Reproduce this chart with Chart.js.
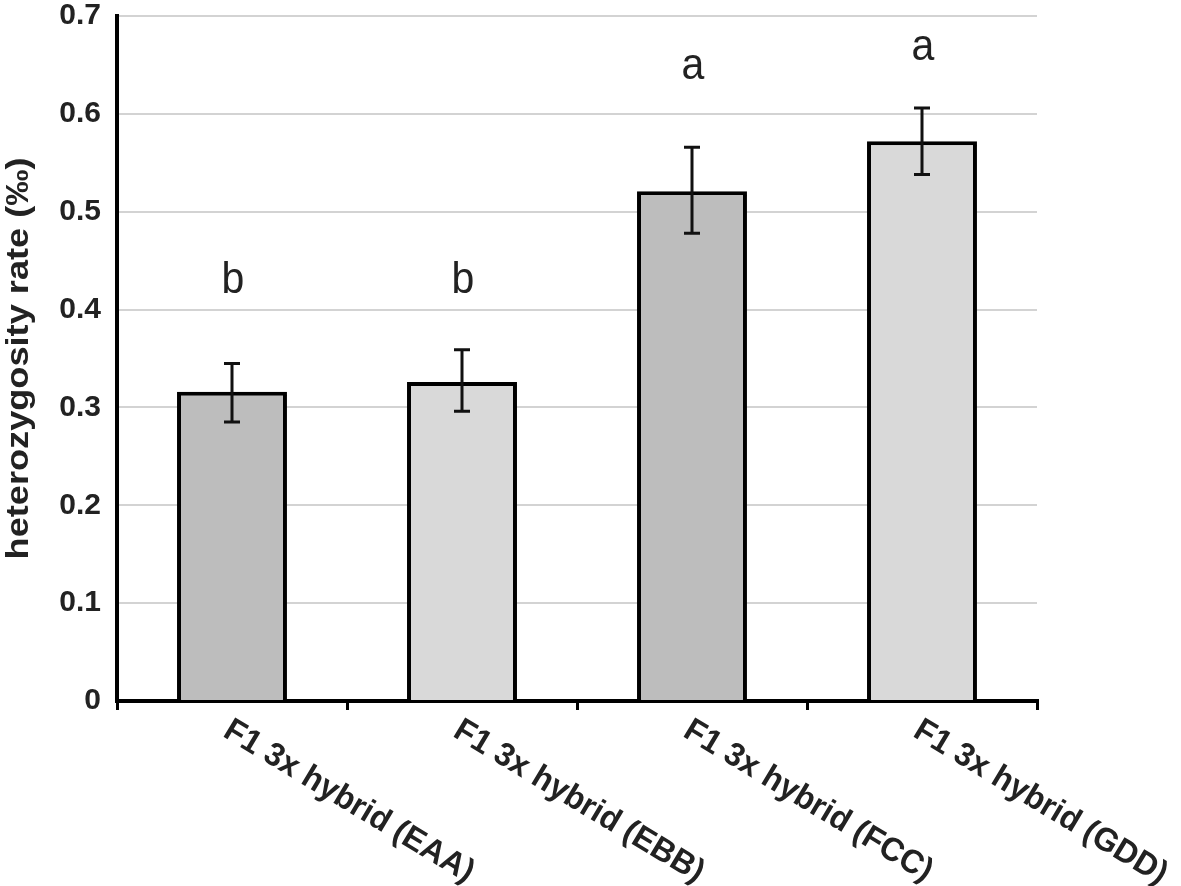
<!DOCTYPE html>
<html>
<head>
<meta charset="utf-8">
<script src="https://cdn.jsdelivr.net/npm/chart.js@4.4.1/dist/chart.umd.min.js"></script>
<style>
body { margin: 0; background: #fff; }
#wrap { width: 1181px; height: 886px; position: relative; }
</style>
</head>
<body>
<div id="wrap"><canvas id="rateChart"></canvas></div>
<script>
var categories = ['F1 3x hybrid (EAA)', 'F1 3x hybrid (EBB)', 'F1 3x hybrid (FCC)', 'F1 3x hybrid (GDD)'];
var rates = [0.316, 0.326, 0.521, 0.572];
var errLow = [0.285, 0.296, 0.478, 0.538];
var errHigh = [0.345, 0.359, 0.566, 0.606];
var groupLetters = ['b', 'b', 'a', 'a'];
var letterPos = [0.417, 0.417, 0.636, 0.655];
var yTickLabels = ['0', '0.1', '0.2', '0.3', '0.4', '0.5', '0.6', '0.7'];
var yTitle = 'heterozygosity rate (‰)';

var FONT = '"Liberation Sans", Arial, sans-serif';
var barColors = ['#bdbdbd', '#d9d9d9', '#bdbdbd', '#d9d9d9'];

// error bars, significance letters, rotated category labels and the y title
var extras = {
    id: 'extras',
    afterDatasetsDraw: function (chart) {
        var ctx = chart.ctx;
        var y = chart.scales.y;
        var x = chart.scales.x;
        var meta = chart.getDatasetMeta(0);
        ctx.save();
        ctx.strokeStyle = '#111';
        ctx.lineWidth = 3;
        meta.data.forEach(function (bar, i) {
            var top = y.getPixelForValue(errHigh[i]);
            var bot = y.getPixelForValue(errLow[i]);
            ctx.beginPath();
            ctx.moveTo(bar.x, top); ctx.lineTo(bar.x, bot);
            ctx.moveTo(bar.x - 8, top); ctx.lineTo(bar.x + 8, top);
            ctx.moveTo(bar.x - 8, bot); ctx.lineTo(bar.x + 8, bot);
            ctx.stroke();
        });

        ctx.fillStyle = '#222';
        ctx.font = '41px ' + FONT;
        ctx.textAlign = 'center';
        ctx.textBaseline = 'alphabetic';
        meta.data.forEach(function (bar, i) {
            ctx.save();
            ctx.translate(bar.x + 1, y.getPixelForValue(letterPos[i]));
            ctx.scale(1, 1.1);
            ctx.fillText(groupLetters[i], 0, 0);
            ctx.restore();
        });

        ctx.font = 'bold 31px ' + FONT;
        ctx.textAlign = 'left';
        ctx.textBaseline = 'top';
        categories.forEach(function (c, i) {
            ctx.save();
            ctx.translate(x.getPixelForValue(i) + 3, x.top + 13);
            ctx.rotate(31 * Math.PI / 180);
            ctx.scale(1.03, 1.06);
            ctx.fillText(c, 0, 0);
            ctx.restore();
        });

        ctx.save();
        ctx.font = 'bold 32px ' + FONT;
        ctx.textAlign = 'center';
        ctx.textBaseline = 'alphabetic';
        ctx.translate(28, (chart.chartArea.top + chart.chartArea.bottom) / 2);
        ctx.rotate(-Math.PI / 2);
        ctx.scale(1.13, 1);
        ctx.fillText(yTitle, 0, 0);
        ctx.restore();
        ctx.restore();
    }
};

var chart = new Chart(document.getElementById('rateChart'), {
    type: 'bar',
    data: {
        labels: categories,
        datasets: [{
            data: rates,
            backgroundColor: barColors,
            borderColor: '#000',
            borderWidth: 4,
            barPercentage: 0.478,
            categoryPercentage: 1
        }]
    },
    options: {
        responsive: true,
        maintainAspectRatio: false,
        animation: false,
        layout: { padding: { top: 0, right: 144, left: 0, bottom: 0 } },
        plugins: { legend: { display: false }, tooltip: { enabled: false } },
        scales: {
            x: {
                ticks: { display: false },
                grid: { drawOnChartArea: false, color: '#000', lineWidth: 3, tickLength: 9 },
                border: { color: '#000', width: 4 },
                afterFit: function (s) { s.height = 185; }
            },
            y: {
                min: 0,
                max: 0.7,
                ticks: {
                    stepSize: 0.1,
                    padding: 16,
                    color: '#222',
                    font: { family: FONT, size: 30, weight: 'bold' },
                    callback: function (v, i) { return yTickLabels[i]; }
                },
                grid: { color: '#d3d3d3', lineWidth: 2, drawTicks: false },
                border: { color: '#000', width: 4 },
                afterFit: function (s) {
                    s.width = 117;
                    s.paddingTop = 16;
                    s.paddingBottom = 0;
                }
            }
        }
    },
    plugins: [extras]
});
</script>
</body>
</html>
